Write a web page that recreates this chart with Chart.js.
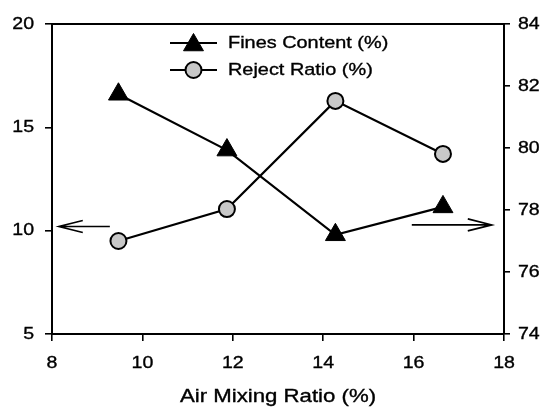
<!DOCTYPE html>
<html>
<head>
<meta charset="utf-8">
<script src="https://cdn.jsdelivr.net/npm/chart.js@4/dist/chart.umd.min.js"></script>
<style>
html,body{margin:0;padding:0;background:#fff;}
canvas{display:block;}
</style>
</head>
<body>
<canvas id="c" width="543" height="409"></canvas>
<script>
// ---- data ----
const airMixingRatio = [9.47, 11.87, 14.27, 16.65];
const finesContent = [16.6, 13.9, 9.8, 11.15];
const rejectRatio = [77.0, 78.03, 81.52, 79.81];
const xTicks = [8, 10, 12, 14, 16, 18];
const leftTicks = [5, 10, 15, 20];
const rightTicks = [74, 76, 78, 80, 82, 84];
const seriesLabels = ['Fines Content (%)', 'Reject Ratio (%)'];
const xTitle = 'Air Mixing Ratio (%)';
// arrow annotations (data units on x / left axis)
const arrowLeft = {x0: 9.28, x1: 8.15, y: 10.2};
const arrowRight = {x0: 15.96, x1: 17.73, y: 10.28};

const FONT = '"Liberation Sans", Arial, sans-serif';

function stretchText(ctx, text, x, y, size, sx, align, baseline) {
  ctx.save();
  ctx.font = size + 'px ' + FONT;
  ctx.fillStyle = '#000';
  ctx.strokeStyle = '#000';
  ctx.lineWidth = 0.35;
  ctx.textAlign = align;
  ctx.textBaseline = baseline;
  ctx.translate(x, y);
  ctx.scale(sx, 1);
  ctx.fillText(text, 0, 0);
  ctx.strokeText(text, 0, 0);
  ctx.restore();
}

const decor = {
  id: 'decor',
  beforeDraw(chart) {
    const ctx = chart.ctx;
    ctx.save();
    ctx.fillStyle = '#fff';
    ctx.fillRect(0, 0, chart.width, chart.height);
    ctx.restore();
  },
  afterDraw(chart) {
    const ctx = chart.ctx;
    const a = chart.chartArea;
    const sx = chart.scales.x, sy = chart.scales.y, sy2 = chart.scales.y2;
    // top frame
    ctx.save();
    ctx.strokeStyle = '#000';
    ctx.lineWidth = 1.8;
    ctx.beginPath();
    ctx.moveTo(a.left, a.top);
    ctx.lineTo(a.right, a.top);
    ctx.stroke();
    ctx.restore();
    // tick labels
    leftTicks.forEach(v => stretchText(ctx, String(v), 34, sy.getPixelForValue(v), 17, 1.15, 'right', 'middle'));
    rightTicks.forEach(v => stretchText(ctx, String(v), 518, sy2.getPixelForValue(v), 17, 1.15, 'left', 'middle'));
    xTicks.forEach(v => stretchText(ctx, String(v), sx.getPixelForValue(v), 363, 17, 1.15, 'center', 'middle'));
    // axis title
    stretchText(ctx, xTitle, (a.left + a.right) / 2, 397, 18.5, 1.2, 'center', 'middle');
    // arrows
    function arrow(ar) {
      const px0 = sx.getPixelForValue(ar.x0), px1 = sx.getPixelForValue(ar.x1);
      const py = sy.getPixelForValue(ar.y);
      const dir = px1 > px0 ? 1 : -1;
      ctx.save();
      ctx.strokeStyle = '#000';
      ctx.lineWidth = 1.6;
      ctx.beginPath();
      ctx.moveTo(px0, py);
      ctx.lineTo(px1, py);
      ctx.moveTo(px1 - dir * 24, py - 6);
      ctx.lineTo(px1, py);
      ctx.lineTo(px1 - dir * 24, py + 6);
      ctx.stroke();
      ctx.restore();
    }
    arrow(arrowLeft);
    arrow(arrowRight);
    // legend
    const rows = [43, 70];
    chart.data.datasets.forEach((ds, i) => {
      const y = rows[i];
      ctx.save();
      ctx.strokeStyle = '#000';
      ctx.lineWidth = 2.2;
      ctx.beginPath();
      ctx.moveTo(170, y);
      ctx.lineTo(217, y);
      ctx.stroke();
      ctx.restore();
      ctx.save();
      ctx.fillStyle = ds.pointBackgroundColor;
      ctx.strokeStyle = '#000';
      ctx.lineWidth = ds.pointBorderWidth;
      Chart.helpers.drawPoint(ctx, {pointStyle: ds.pointStyle, rotation: 0, radius: ds.pointRadius, borderWidth: ds.pointBorderWidth}, 193.5, y + (ds.pointStyle === 'triangle' ? 2 : 0));
      ctx.restore();
      stretchText(ctx, ds.label, 228, y, 17, 1.17, 'left', 'middle');
    });
  }
};

new Chart(document.getElementById('c'), {
  type: 'scatter',
  data: {
    datasets: [
      {
        label: seriesLabels[0],
        data: airMixingRatio.map((x, i) => ({x, y: finesContent[i]})),
        yAxisID: 'y',
        showLine: true,
        borderColor: '#000',
        borderWidth: 2.2,
        pointStyle: 'triangle',
        pointRadius: 11.5,
        pointBackgroundColor: '#000',
        pointBorderColor: '#000',
        pointBorderWidth: 1,
        order: 1
      },
      {
        label: seriesLabels[1],
        data: airMixingRatio.map((x, i) => ({x, y: rejectRatio[i]})),
        yAxisID: 'y2',
        showLine: true,
        borderColor: '#000',
        borderWidth: 2.2,
        pointStyle: 'circle',
        pointRadius: 8,
        pointBackgroundColor: '#c8c8c8',
        pointBorderColor: '#000',
        pointBorderWidth: 2,
        order: 0
      }
    ]
  },
  options: {
    responsive: false,
    animation: false,
    devicePixelRatio: 1,
    layout: {padding: {top: 24, left: 0, right: 0, bottom: 0}},
    plugins: {legend: {display: false}, tooltip: {enabled: false}},
    scales: {
      x: {
        type: 'linear', min: 8, max: 18,
        afterBuildTicks(s) { s.ticks = xTicks.map(v => ({value: v})); },
        ticks: {display: false},
        grid: {drawOnChartArea: false, drawTicks: true, tickLength: 7, color: '#000', lineWidth: 1.6},
        border: {display: true, color: '#000', width: 2},
        afterFit(s) { s.height = 75; }
      },
      y: {
        type: 'linear', position: 'left', min: 5, max: 20,
        afterBuildTicks(s) { s.ticks = leftTicks.map(v => ({value: v})); },
        ticks: {display: false},
        grid: {drawOnChartArea: false, drawTicks: true, tickLength: 7, color: '#000', lineWidth: 1.6},
        border: {display: true, color: '#000', width: 2},
        afterFit(s) { s.width = 52; }
      },
      y2: {
        type: 'linear', position: 'right', min: 74, max: 84,
        afterBuildTicks(s) { s.ticks = rightTicks.map(v => ({value: v})); },
        ticks: {display: false},
        grid: {drawOnChartArea: false, drawTicks: true, tickLength: 6, color: '#000', lineWidth: 1.6},
        border: {display: true, color: '#000', width: 2},
        afterFit(s) { s.width = 39; }
      }
    }
  },
  plugins: [decor]
});
</script>
</body>
</html>
